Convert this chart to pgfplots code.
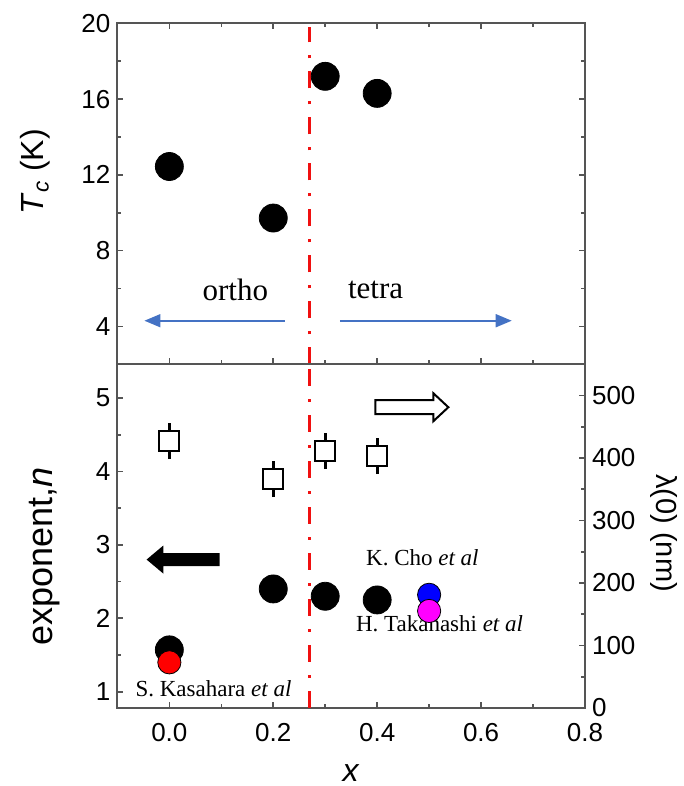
\documentclass[border=0pt]{standalone}
\usepackage{fontspec}
\setmainfont{Liberation Sans}
\newfontfamily\timesfont{Liberation Serif}
\usepackage{pgfplots}
\pgfplotsset{compat=1.18}
\usetikzlibrary{arrows.meta}
\definecolor{axgray}{HTML}{555555}
\definecolor{arrblue}{HTML}{4472C4}
\definecolor{dashred}{HTML}{F01010}
\definecolor{dotblue}{HTML}{0000FF}
\definecolor{dotmag}{HTML}{FF00FF}
\definecolor{dotred}{HTML}{FF0000}

\pgfplotsset{
  panel/.style={
    scale only axis, width=233.8pt,
    xmin=-0.1, xmax=0.8,
    xtick={0,0.2,0.4,0.6,0.8}, minor x tick num=1,
    axis line style={axgray, line width=1pt},
    every tick/.style={axgray, line width=0.8pt},
    major tick length=3pt, minor tick length=2pt,
    tick align=inside,
    tick label style={font=\fontsize{13}{15}\selectfont},
    label style={font=\fontsize{16}{19}\selectfont},
    /pgf/number format/assume math mode=true,
  },
  dot/.style={only marks, mark=*, mark options={draw=none, fill=#1}},
  redline/.style={dashred, line width=1.7pt, dash pattern=on 8.5pt off 6.5pt on 1.5pt off 6.5pt},
}

\begin{document}
\begin{tikzpicture}
\path[use as bounding box] (-58.7pt,-39pt) rectangle (283.3pt,354pt);

% top panel: Tc
\begin{axis}[panel, at={(0,171.85pt)}, height=170.5pt,
  ymin=2, ymax=20, ytick={4,8,12,16,20}, minor y tick num=1,
  xticklabels={},
  ylabel={\textit{T}\textsubscript{\textit{c}} (K)},
  ylabel style={font=\fontsize{16}{19}\selectfont, at={(axis description cs:-0.176,0.565)}, anchor=center}]
\addplot[redline] coordinates {(0.27,2) (0.27,19.8)};
\addplot[dot=black, mark size=7pt] coordinates {(0,12.44) (0.2,9.72) (0.3,17.2) (0.4,16.3)};
\draw[arrblue, line width=0.8pt, -{Triangle[length=8pt,width=6.5pt]}] (axis cs:0.222,4.3) -- (axis cs:-0.048,4.3);
\draw[arrblue, line width=0.8pt, -{Triangle[length=8pt,width=6.5pt]}] (axis cs:0.328,4.3) -- (axis cs:0.659,4.3);
\node[font=\timesfont\fontsize{15.5}{18}\selectfont] at (axis cs:0.127,5.94) {ortho};
\node[font=\timesfont\fontsize{15.5}{18}\selectfont] at (axis cs:0.397,5.94) {tetra};
\end{axis}

% bottom panel: exponent n (left)
\begin{axis}[panel, at={(0,0)}, height=171.85pt,
  ymin=0.778, ymax=5.46, ytick={1,2,3,4,5}, minor y tick num=1,
  ytick pos=left, xtick pos=left,
  xticklabel style={yshift=-4pt, /pgf/number format/fixed, /pgf/number format/fixed zerofill, /pgf/number format/precision=1},
  xlabel={\textit{x}},
  xlabel style={at={(axis description cs:0.5,-0.19)}, anchor=center},
  ylabel={exponent,\textit{n}},
  ylabel style={font=\fontsize{18}{21}\selectfont, at={(axis description cs:-0.155,0.44)}, anchor=center}]
\addplot[redline] coordinates {(0.27,0.778) (0.27,5.46)};
\addplot[dot=black, mark size=7pt] coordinates {(0,1.57) (0.2,2.40) (0.3,2.30) (0.4,2.25)};
\addplot[dot=dotred, mark size=5.8pt] coordinates {(0,1.40)};
\addplot[dot=dotblue, mark size=5.8pt] coordinates {(0.5,2.32)};
\addplot[dot=dotmag, mark size=5.8pt] coordinates {(0.5,2.10)};
\coordinate (LA) at (axis cs:-0.0438,2.80);
\coordinate (RA) at (axis cs:0.537,4.875);
\fill[black] (LA) -- ([xshift=8.35pt,yshift=7pt]LA) -- ([xshift=8.35pt,yshift=3.25pt]LA)
  -- ([xshift=36.5pt,yshift=3.25pt]LA) -- ([xshift=36.5pt,yshift=-3.25pt]LA)
  -- ([xshift=8.35pt,yshift=-3.25pt]LA) -- ([xshift=8.35pt,yshift=-7pt]LA) -- cycle;
\draw[black, line width=1pt, fill=white] (RA) -- ([xshift=-7.5pt,yshift=7pt]RA) -- ([xshift=-7.5pt,yshift=3.5pt]RA)
  -- ([xshift=-36.5pt,yshift=3.5pt]RA) -- ([xshift=-36.5pt,yshift=-3.5pt]RA)
  -- ([xshift=-7.5pt,yshift=-3.5pt]RA) -- ([xshift=-7.5pt,yshift=-7pt]RA) -- cycle;
\node[font=\timesfont\fontsize{11.5}{13}\selectfont] at (axis cs:0.487,2.82) {K. Cho \textit{et al}};
\node[font=\timesfont\fontsize{11.5}{13}\selectfont] at (axis cs:0.52,1.92) {H. Takahashi \textit{et al}};
\node[font=\timesfont\fontsize{11.5}{13}\selectfont] at (axis cs:0.085,1.04) {S. Kasahara \textit{et al}};
\end{axis}

% bottom panel: lambda(0) (right)
\begin{axis}[panel, name=rax, at={(0,0)}, height=171.85pt,
  ymin=0, ymax=550, axis x line=none, axis y line*=right,
  ytick={0,100,200,300,400,500}, minor y tick num=1]
\addplot[only marks, mark=square*, mark size=5pt,
  mark options={fill=white, draw=black, line width=1pt},
  error bars/.cd, y dir=both, y explicit, error mark=-,
  error bar style={black, line width=1pt},
  error mark options={black, mark size=3pt, line width=1.6pt}]
  coordinates {(0,427) +- (0,19) (0.2,366) +- (0,19) (0.3,411) +- (0,19) (0.4,403) +- (0,19)};
\end{axis}
\node[rotate=-90, inner sep=1pt, font=\fontsize{14.5}{16}\selectfont] at ([xshift=39.5pt,yshift=1.5pt]rax.east) {λ(0) (nm)};
\end{tikzpicture}
\end{document}
